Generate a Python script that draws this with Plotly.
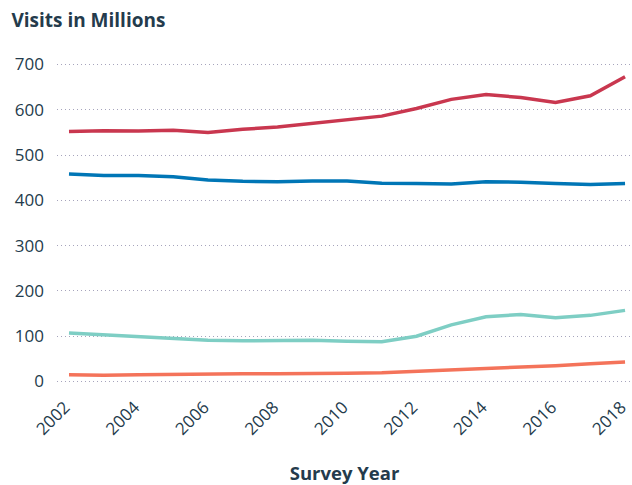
import plotly.graph_objects as go

years = list(range(2002, 2019))
series_a = [552, 554, 553, 555, 550, 557, 562, 570, 578, 586, 603, 623, 634, 627, 616, 631, 673]
series_b = [458, 455, 455, 452, 445, 442, 441, 443, 443, 438, 437, 436, 441, 440, 437, 435, 437]
series_c = [107, 103, 98, 94, 91, 90, 91, 91, 89, 88, 100, 125, 143, 148, 141, 146, 157]
series_d = [15, 14, 15, 16, 17, 17, 17, 17, 18, 19, 22, 25, 29, 32, 35, 39, 43]
colors = ["#C9374F", "#0076B6", "#7ECEC4", "#F4735A"]

fig = go.Figure()
for vals, col in zip([series_a, series_b, series_c, series_d], colors):
    fig.add_trace(go.Scatter(x=years, y=vals, mode="lines",
                             line=dict(color=col, width=3.5), showlegend=False,
                             hoverinfo="x+y"))

font_family = "Open Sans, Lato, sans-serif"
text_color = "#243B4C"

fig.update_layout(
    width=632, height=485,
    margin=dict(l=57, r=0, t=60, b=99, autoexpand=False),
    plot_bgcolor="white", paper_bgcolor="white",
    font=dict(family=font_family, color=text_color, size=17),
    title=dict(text="<b>Visits in Millions</b>", x=0.018, xanchor="left",
               y=0.958, yanchor="middle", font=dict(size=19, color=text_color)),
    xaxis=dict(range=[2001.655, 2018.2], tickvals=list(range(2002, 2019, 2)),
               tickangle=-45, showgrid=False, zeroline=False, showline=False,
               ticks="", tickfont=dict(size=17, color=text_color), automargin=False,
               ticklabeloverflow="allow", ticklabelstandoff=7, ticklabelshift=-4,
               title=dict(text="<b>Survey Year</b>", font=dict(size=18.5, color=text_color), standoff=30)),
    yaxis=dict(range=[-10, 710], tickvals=[0, 100, 200, 300, 400, 500, 600, 700],
               showgrid=True, gridcolor="#A6A4BC", griddash="1px,3px", gridwidth=1.2,
               zeroline=False, showline=False, ticks="", ticklabelstandoff=12,
               automargin=False, tickfont=dict(size=17, color=text_color)),
)

fig.write_html("out.html", config={"displayModeBar": False},
               post_script="document.body.style.margin='0';")
